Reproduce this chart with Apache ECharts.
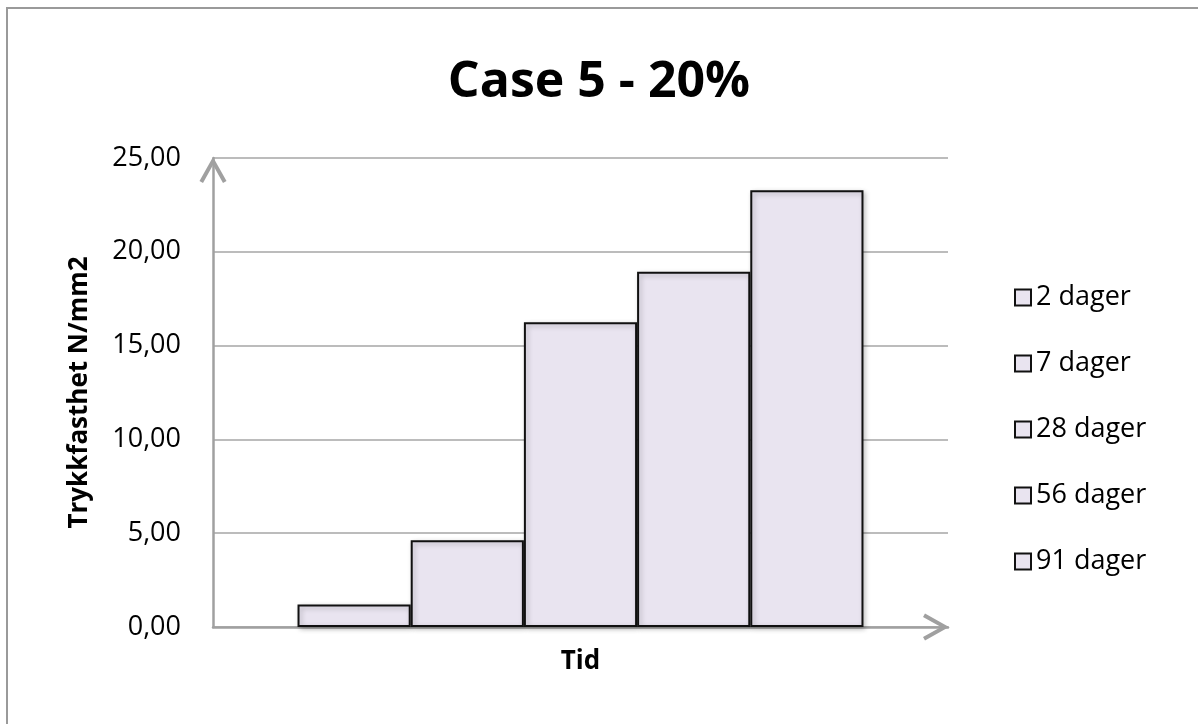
<!DOCTYPE html>
<html>
<head>
<meta charset="utf-8">
<title>Case 5 - 20%</title>
<script src="https://cdn.jsdelivr.net/npm/echarts@6/dist/echarts.min.js"></script>
<style>
  html, body { margin: 0; padding: 0; background: #ffffff; }
  #chart { width: 1198px; height: 724px; }
</style>
</head>
<body>
<div id="chart"></div>
<script>
// Compressive strength after each curing age
const categories = ['Tid'];
const seriesNames = ['2 dager', '7 dager', '28 dager', '56 dager', '91 dager'];
const strengthValues = [1.20, 4.62, 16.25, 18.93, 23.28];
const yTickStep = 5;
const yMax = 25;

const FONT = '"Open Sans", "Noto Sans", sans-serif';
const BAR_FILL = '#e9e4f0';
const AXIS_GREY = '#a0a0a0';

// open chevron used as the axis end arrow (points up in symbol space)
const chevron = 'path://M13.5,0 L27,24 L23.5,26 L13.5,8 L3.5,26 L0,24 Z';

const series = seriesNames.map((name, i) => ({
  name: name,
  type: 'bar',
  barGap: '0%',
  barCategoryGap: '23%',
  data: [strengthValues[i]],
  itemStyle: {
    color: BAR_FILL,
    borderColor: '#111111',
    borderWidth: 2,
    shadowBlur: 5,
    shadowOffsetX: 2,
    shadowOffsetY: 2,
    shadowColor: 'rgba(0,0,0,0.25)'
  }
}));

const chart = echarts.init(document.getElementById('chart'), null, { renderer: 'canvas' });
chart.setOption({
  backgroundColor: '#ffffff',
  animation: false,
  graphic: [{
    type: 'rect',
    shape: { x: 7, y: 8, width: 1300, height: 900 },
    style: { fill: 'none', stroke: '#9a9a9a', lineWidth: 2 },
    silent: true
  }],
  title: {
    text: 'Case 5 - 20%',
    left: 'center',
    top: 53,
    textStyle: { fontFamily: FONT, fontSize: 50, fontWeight: 'bold', color: '#000000' }
  },
  legend: {
    orient: 'vertical',
    left: 1009,
    top: 279,
    itemWidth: 16,
    itemHeight: 16,
    itemGap: 39,
    icon: 'rect',
    textStyle: { fontFamily: FONT, fontSize: 27, color: '#000000' },
    data: seriesNames
  },
  grid: { left: 213, right: 250, top: 158, bottom: 97, containLabel: false },
  xAxis: {
    type: 'category',
    data: categories,
    name: 'Tid',
    nameLocation: 'middle',
    nameGap: 22,
    nameTextStyle: { fontFamily: FONT, fontSize: 26, fontWeight: 'bold', color: '#000000' },
    axisLabel: { show: false },
    axisTick: { show: false },
    axisLine: {
      lineStyle: { color: AXIS_GREY, width: 2.5 },
      symbol: ['none', chevron],
      symbolSize: [27, 26],
      symbolOffset: [0, -12]
    }
  },
  yAxis: {
    type: 'value',
    min: 0,
    max: yMax,
    interval: yTickStep,
    name: 'Trykkfasthet N/mm2',
    nameLocation: 'middle',
    nameGap: 120,
    nameRotate: 90,
    nameTextStyle: { fontFamily: FONT, fontSize: 26, fontWeight: 'bold', color: '#000000' },
    axisLabel: {
      margin: 32,
      fontFamily: FONT,
      fontSize: 27,
      color: '#000000',
      formatter: v => v.toFixed(2).replace('.', ',')
    },
    axisTick: { show: false },
    axisLine: {
      show: true,
      lineStyle: { color: AXIS_GREY, width: 2.5 },
      symbol: ['none', chevron],
      symbolSize: [27, 26],
      symbolOffset: [0, -12]
    },
    splitLine: { lineStyle: { color: '#a6a6a6', width: 1.5 } }
  },
  series: series
});
</script>
</body>
</html>
